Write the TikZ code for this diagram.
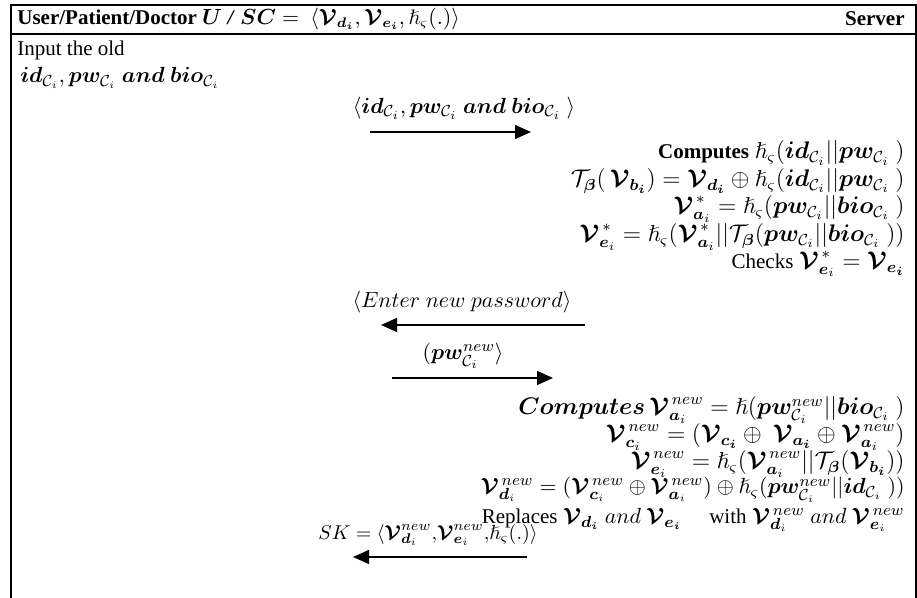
\documentclass[tikz,border=0pt]{standalone}
\usepackage{amsmath,amssymb,bm}
\usepackage{fontspec}
\setmainfont{Liberation Serif}
\usetikzlibrary{arrows.meta}
\newcommand{\Vb}{\bm{\mathcal{V}}}
\newcommand{\hh}{\hslash_{\varsigma}}
\newcommand{\Ci}{\mathcal{C}_i}
\newcommand{\idc}{\bm{id}_{\Ci}}
\newcommand{\pwc}{\bm{pw}_{\Ci}}
\newcommand{\bioc}{\bm{bio}_{\Ci}}
\newcommand{\pwnew}{\bm{pw}^{new}_{\Ci}}
\newcommand{\Tb}{\mathcal{T}_{\bm{\beta}}}
\newcommand{\tx}[1]{{\fontsize{10.5}{12.6}\selectfont #1}}
\begin{document}
\begin{tikzpicture}[x=0.5pt,y=-0.5pt,
  font=\fontsize{10.5}{12.6}\selectfont,
  frame/.style={line width=0.8pt},
  msg/.style={line width=0.65pt,-{Triangle[length=8pt,width=7pt]}},
  rline/.style={anchor=east,inner sep=0pt,font=\fontsize{11.5}{13}\selectfont},
  lline/.style={anchor=west,inner sep=0pt},
  lbl/.style={inner sep=0pt,font=\fontsize{11.2}{13}\selectfont}]
\useasboundingbox (0,0) rectangle (917,598);
\draw[frame] (11,598) -- (11,5) -- (916,5) -- (916,598);
\draw[frame] (11,34) -- (916,34);
% header
\node[lline] (hu) at (17,19) {\textbf{User/Patient/Doctor} $\bm{U}$ \textbf{\textit{/}} $\bm{SC} =\ \langle \Vb_{\bm{d_i}}, \Vb_{\bm{e_i}}, \hh(.)\rangle$};
\node[lline,anchor=east] (hs) at (905,19) {\textbf{Server}};
% user side
\node[lline] (u1) at (17,50) {Input the old};
\node[lline,font=\fontsize{11}{13}\selectfont] (u2) at (20,78) {$\idc, \pwc\ \bm{and}\ \bioc$};
% message 1
\node[lbl] (m1) at (464,108) {$\langle \idc, \pwc\ \bm{and}\ \bioc\ \rangle$};
\coordinate (m1a) at (370,132);
\coordinate (m1b) at (531,132);
\draw[msg] (m1a) -- (m1b);
% server side 1
\node[rline] (s1) at (905,153) {\tx{\textbf{Computes}} $\hh(\idc||\pwc\ )$};
\node[rline] (s2) at (905,181) {$\Tb(\,\Vb_{\bm{b_i}}) = \Vb_{\bm{d_i}} \oplus \hh(\idc||\pwc\ )$};
\node[rline] (s3) at (905,209) {$\Vb_{\bm{a}_i}^{\,*} = \hh(\pwc||\bioc\ )$};
\node[rline] (s4) at (905,237) {$\Vb_{\bm{e}_i}^{\,*} = \hh(\Vb_{\bm{a}_i}^{\,*}||\Tb(\pwc||\bioc\ ))$};
\node[rline] (s5) at (905,264) {\tx{Checks} $\Vb_{\bm{e}_i}^{\,*} = \Vb_{\bm{e_i}}$};
% message 2
\node[lbl] (m2) at (462,302) {$\langle Enter\ new\ password\rangle$};
\coordinate (m2a) at (585,325);
\coordinate (m2b) at (381,325);
\draw[msg] (m2a) -- (m2b);
% message 3
\node[lbl] (m3) at (463,356) {$(\pwnew\rangle$};
\coordinate (m3a) at (392,378);
\coordinate (m3b) at (553,378);
\draw[msg] (m3a) -- (m3b);
% server side 2
\node[rline] (t1) at (905,410) {$\bm{Computes}\, \Vb_{\bm{a}_i}^{\,new} = \hslash(\pwnew||\bioc\ )$};
\node[rline] (t2) at (905,437) {$\Vb_{\bm{c}_i}^{\,new} = (\Vb_{\bm{c_i}} \oplus\ \Vb_{\bm{a_i}} \oplus \Vb_{\bm{a}_i}^{\,new})$};
\node[rline] (t3) at (905,464) {$\Vb_{\bm{e}_i}^{\,new} = \hh(\Vb_{\bm{a}_i}^{\,new}||\Tb(\Vb_{\bm{b_i}}))$};
\node[rline,font=\fontsize{11}{13}\selectfont] (t4) at (905,490) {$\Vb_{\bm{d}_i}^{\,new} = (\Vb_{\bm{c}_i}^{\,new} \oplus \Vb_{\bm{a}_i}^{\,new}) \oplus \hh(\pwnew||\idc\ ))$};
\node[rline,font=\fontsize{11}{13}\selectfont] (t5) at (905,520) {\tx{Replaces} $\Vb_{\bm{d_i}}\ and\ \Vb_{\bm{e_i}}$\quad\ \tx{with} $\Vb_{\bm{d}_i}^{\,new}\ and\ \Vb_{\bm{e}_i}^{\,new}$};
% message 4
\node[lbl,font=\fontsize{10.2}{12}\selectfont] (m4) at (428,535) {$SK = \langle \Vb_{\bm{d}_i}^{new}{,} \Vb_{\bm{e}_i}^{new}{,} \hh(.)\rangle$};
\coordinate (m4a) at (527,557);
\coordinate (m4b) at (353,557);
\draw[msg] (m4a) -- (m4b);
\end{tikzpicture}
\end{document}
